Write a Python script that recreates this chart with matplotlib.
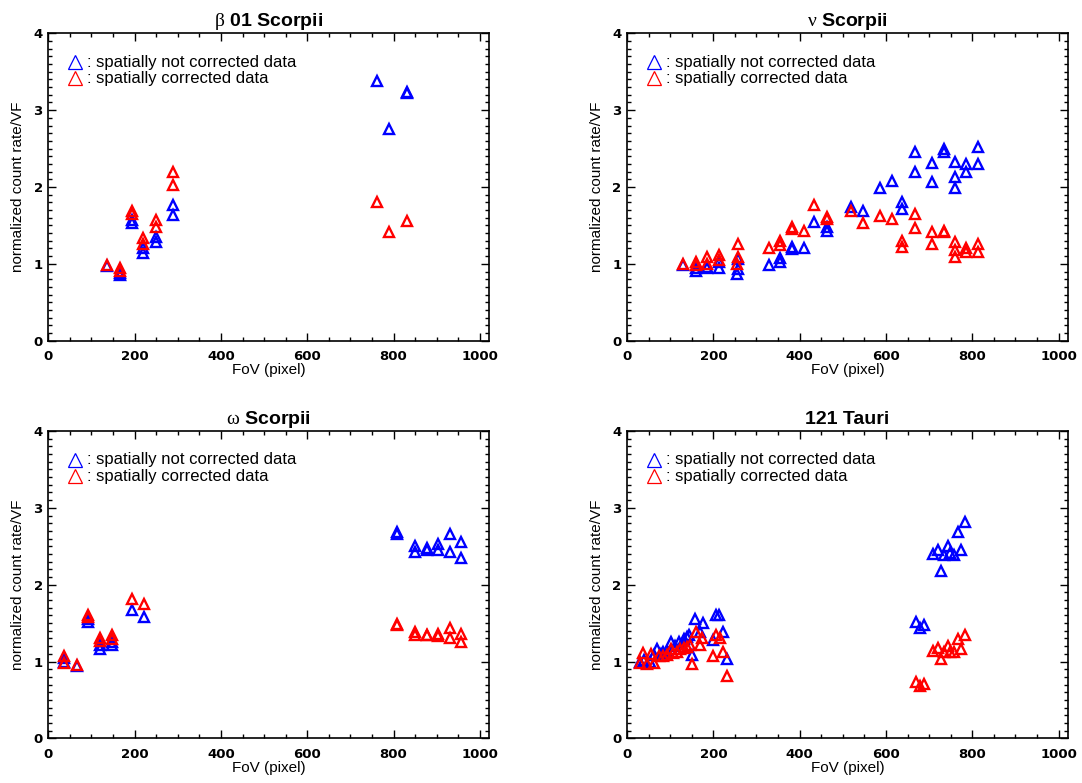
import matplotlib
matplotlib.use("Agg")
import matplotlib.pyplot as plt
from matplotlib.ticker import MultipleLocator

plt.rcParams['font.family'] = ['Liberation Sans', 'DejaVu Sans']
plt.rcParams['mathtext.fontset'] = 'custom'
plt.rcParams['mathtext.rm'] = 'Liberation Serif'

# ---------------- data ----------------
titles = [r'$\mathrm{\beta}$ 01 Scorpii', r'$\mathrm{\nu}$ Scorpii',
          r'$\mathrm{\omega}$ Scorpii', '121 Tauri']

# beta 01 Scorpii
b1_blue_x = [137, 165, 165, 193, 193, 219, 219, 250, 250, 290, 290, 762, 790, 830, 830]
b1_blue_y = [0.97, 0.88, 0.86, 1.57, 1.53, 1.20, 1.14, 1.35, 1.28, 1.77, 1.64, 3.38, 2.75, 3.23, 3.22]
b1_red_x = [137, 165, 165, 193, 193, 219, 219, 250, 250, 290, 290, 762, 790, 830]
b1_red_y = [0.98, 0.95, 0.91, 1.69, 1.65, 1.34, 1.26, 1.57, 1.48, 2.19, 2.03, 1.80, 1.41, 1.56]

# nu Scorpii
nu_blue_x = [129, 159, 159, 186, 186, 213, 213, 258, 258, 255, 328, 355, 355, 382, 382, 409, 434,
             463, 463, 519, 547, 587, 614, 638, 638, 667, 667, 707, 707, 735, 735, 761, 761, 761,
             786, 786, 813, 813]
nu_blue_y = [0.98, 0.95, 0.91, 0.96, 0.94, 1.02, 0.94, 1.06, 0.93, 0.87, 0.99, 1.07, 1.02, 1.22, 1.19,
             1.20, 1.54, 1.48, 1.43, 1.74, 1.69, 1.99, 2.08, 1.81, 1.71, 2.45, 2.19, 2.31, 2.06, 2.49,
             2.46, 2.33, 2.13, 1.99, 2.30, 2.19, 2.52, 2.30]
nu_red_x = [129, 159, 159, 186, 186, 213, 213, 258, 258, 255, 328, 355, 355, 382, 382, 409, 434,
            463, 463, 519, 547, 587, 614, 638, 638, 667, 667, 707, 707, 735, 735, 761, 761, 761,
            786, 786, 813, 813]
nu_red_y = [1.00, 1.03, 0.98, 1.09, 1.00, 1.12, 1.05, 1.26, 1.09, 1.00, 1.20, 1.30, 1.25, 1.48, 1.45,
            1.43, 1.77, 1.61, 1.58, 1.69, 1.53, 1.62, 1.58, 1.30, 1.22, 1.65, 1.47, 1.42, 1.26, 1.43,
            1.42, 1.28, 1.18, 1.09, 1.20, 1.15, 1.26, 1.15]

# omega Scorpii
om_blue_x = [37, 37, 66, 93, 93, 120, 120, 148, 148, 193, 222, 809, 809, 849, 849, 878, 878,
             904, 904, 931, 931, 957, 957]
om_blue_y = [1.05, 0.99, 0.94, 1.55, 1.51, 1.22, 1.16, 1.26, 1.21, 1.67, 1.58, 2.68, 2.66, 2.51, 2.42,
             2.48, 2.45, 2.53, 2.45, 2.66, 2.43, 2.55, 2.35]
om_red_x = [37, 37, 66, 93, 93, 120, 120, 148, 148, 193, 222, 809, 809, 849, 849, 878, 878,
            904, 904, 931, 931, 957, 957]
om_red_y = [1.07, 0.98, 0.95, 1.61, 1.58, 1.31, 1.27, 1.35, 1.29, 1.81, 1.75, 1.49, 1.47, 1.38, 1.34,
            1.35, 1.34, 1.36, 1.33, 1.44, 1.31, 1.36, 1.25]

# 121 Tauri
ta_blue_x = [30, 40, 53, 62, 70, 78, 84, 92, 101, 111, 121, 131, 138, 144, 150, 158, 168, 176,
             199, 206, 214, 223, 231,
             670, 687, 679, 710, 720, 727, 735, 743, 749, 758, 767, 774, 784]
ta_blue_y = [0.99, 1.02, 1.00, 1.08, 1.16, 1.10, 1.13, 1.12, 1.25, 1.20, 1.25, 1.29, 1.32, 1.34,
             1.09, 1.56, 1.39, 1.50, 1.28, 1.61, 1.60, 1.39, 1.03,
             1.52, 1.48, 1.44, 2.40, 2.45, 2.18, 2.38, 2.50, 2.41, 2.38, 2.69, 2.45, 2.82]
ta_red_x = [30, 38, 47, 55, 63, 75, 84, 92, 101, 107, 115, 123, 131, 138, 146, 151, 160, 168,
            173, 200, 206, 216, 223, 231,
            670, 687, 679, 710, 720, 727, 735, 743, 749, 758, 767, 774, 784]
ta_red_y = [0.98, 1.11, 0.97, 1.10, 0.98, 1.07, 1.07, 1.09, 1.16, 1.11, 1.13, 1.16, 1.17, 1.19,
            1.21, 0.97, 1.38, 1.22, 1.31, 1.07, 1.35, 1.31, 1.12, 0.81,
            0.73, 0.71, 0.68, 1.14, 1.18, 1.03, 1.12, 1.20, 1.13, 1.12, 1.29, 1.16, 1.34]

legend_labels = [': spatially not corrected data', ': spatially corrected data']
x_label = 'FoV (pixel)'
y_label = 'normalized count rate/VF'

panels = [
    (b1_blue_x, b1_blue_y, b1_red_x, b1_red_y),
    (nu_blue_x, nu_blue_y, nu_red_x, nu_red_y),
    (om_blue_x, om_blue_y, om_red_x, om_red_y),
    (ta_blue_x, ta_blue_y, ta_red_x, ta_red_y),
]

# ---------------- figure ----------------
fig = plt.figure(figsize=(10.82, 7.83), dpi=100)
W, H = 1082.0, 783.0
aw, ah = 440.7, 307.4
lefts = [48.3, 627.0]
tops = [33.3, 431.0]

for i, (bx, by, rx, ry) in enumerate(panels):
    col = i % 2
    row = i // 2
    l = lefts[col] / W
    b = 1 - (tops[row] + ah) / H
    ax = fig.add_axes([l, b, aw / W, ah / H])
    ax.plot(bx, by, linestyle='none', marker='^', ms=7, mew=1.7, mfc='none', mec='#0000ff')
    ax.plot(rx, ry, linestyle='none', marker='^', ms=7, mew=1.7, mfc='none', mec='#ff0000')
    ax.set_xlim(0, 1021)
    ax.set_ylim(0, 4)
    ax.xaxis.set_major_locator(MultipleLocator(200))
    ax.xaxis.set_minor_locator(MultipleLocator(50))
    ax.yaxis.set_major_locator(MultipleLocator(1))
    ax.yaxis.set_minor_locator(MultipleLocator(0.1))
    ax.tick_params(which='both', direction='in', top=True, right=True, width=1.0)
    ax.tick_params(which='major', length=5.5)
    ax.tick_params(which='minor', length=2.8)
    ax.tick_params(axis='x', which='major', pad=7)
    ax.tick_params(axis='y', which='major', pad=4)
    for lab in ax.get_xticklabels() + ax.get_yticklabels():
        lab.set_fontfamily('DejaVu Sans')
        lab.set_fontweight('bold')
        lab.set_fontsize(9.5)
    for sp in ax.spines.values():
        sp.set_linewidth(1.2)
    ax.set_title(titles[i], fontsize=14, fontweight='bold', pad=5)
    ax.set_xlabel(x_label, fontsize=11)
    ax.set_ylabel(y_label, fontsize=11)
    ax.xaxis.set_label_coords(0.5, -0.073)
    ax.yaxis.set_label_coords(-0.053, 0.5)

    # legend (symbols + text)
    ys = [0.906, 0.853]
    for yy, c, txt in zip(ys, ['#0000ff', '#ff0000'], legend_labels):
        ax.plot([0.061], [yy], transform=ax.transAxes, marker='^', ms=10, mew=0.9,
                mfc='none', mec=c, linestyle='none', clip_on=False)
        ax.text(0.088, yy, txt, transform=ax.transAxes, fontsize=12, va='center', ha='left')

fig.savefig('out.png', dpi=100)
